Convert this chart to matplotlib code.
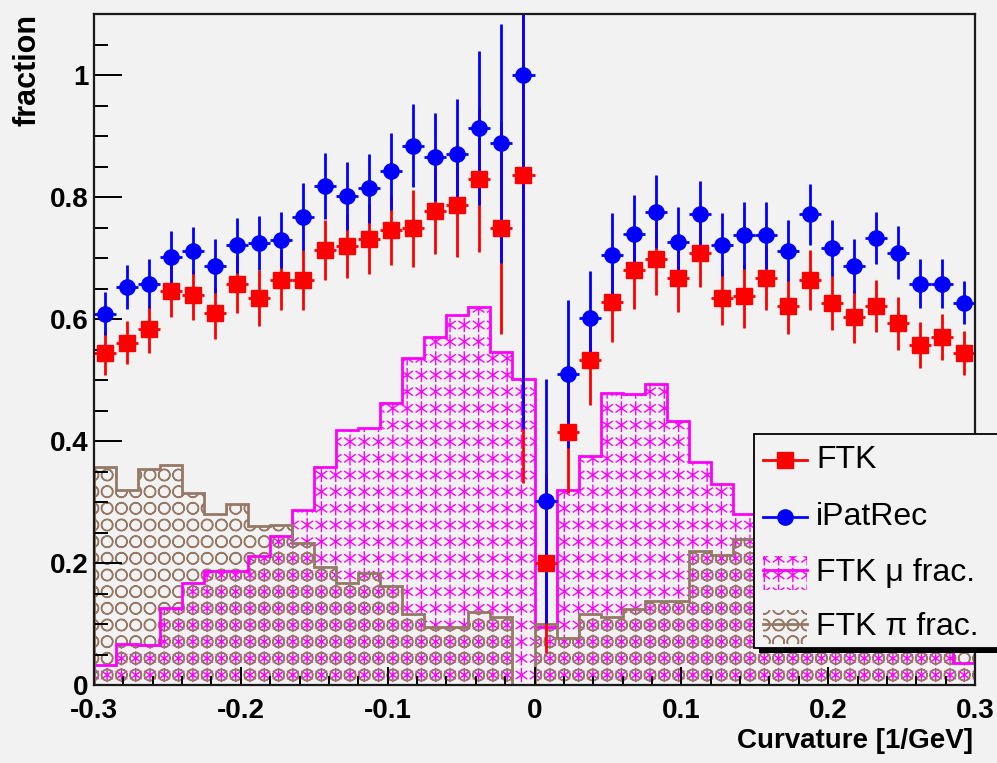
import numpy as np
import matplotlib
matplotlib.use("Agg")
import matplotlib.pyplot as plt
import matplotlib.hatch as mhatch
from matplotlib.path import Path
from matplotlib.patches import Rectangle
from matplotlib.lines import Line2D
from matplotlib.ticker import MultipleLocator

# ---- binning: 40 bins of curvature between -0.3 and 0.3 1/GeV ----
edges = np.linspace(-0.3, 0.3, 41)
centers = 0.5 * (edges[:-1] + edges[1:])
half_width = 0.5 * (edges[1] - edges[0])

# ---- efficiencies ----
ftk = [0.544, 0.561, 0.583, 0.646, 0.639, 0.610, 0.657, 0.635, 0.664, 0.664,
       0.713, 0.720, 0.731, 0.746, 0.749, 0.777, 0.787, 0.829, 0.750, 0.836,
       0.200, 0.415, 0.532, 0.628, 0.681, 0.699, 0.667, 0.708, 0.635, 0.638,
       0.667, 0.621, 0.664, 0.627, 0.604, 0.621, 0.593, 0.557, 0.571, 0.544]
ftk_err = [0.036, 0.035, 0.039, 0.043, 0.040, 0.042, 0.047, 0.046, 0.049, 0.050,
           0.049, 0.052, 0.057, 0.057, 0.063, 0.070, 0.085, 0.119, 0.174, 0.505,
           0.148, 0.100, 0.073, 0.066, 0.064, 0.060, 0.056, 0.055, 0.045, 0.052,
           0.052, 0.045, 0.049, 0.045, 0.043, 0.043, 0.043, 0.038, 0.038, 0.036]

ipatrec = [0.609, 0.652, 0.658, 0.701, 0.712, 0.687, 0.721, 0.725, 0.730, 0.768,
           0.818, 0.802, 0.814, 0.842, 0.884, 0.866, 0.870, 0.913, 0.888, 1.000,
           0.301, 0.510, 0.601, 0.705, 0.740, 0.776, 0.726, 0.772, 0.722, 0.737,
           0.737, 0.712, 0.772, 0.716, 0.687, 0.733, 0.709, 0.658, 0.658, 0.627]
ipatrec_err = [0.036, 0.036, 0.040, 0.044, 0.039, 0.044, 0.045, 0.044, 0.046, 0.055,
               0.054, 0.056, 0.057, 0.063, 0.068, 0.072, 0.090, 0.126, 0.196, 0.580,
               0.200, 0.121, 0.077, 0.068, 0.064, 0.060, 0.058, 0.055, 0.051, 0.055,
               0.055, 0.050, 0.050, 0.046, 0.044, 0.043, 0.043, 0.040, 0.040, 0.036]

# ---- particle composition of FTK tracks ----
mu_frac = [0.033, 0.068, 0.066, 0.127, 0.167, 0.187, 0.187, 0.212, 0.244, 0.287,
           0.357, 0.418, 0.422, 0.463, 0.536, 0.570, 0.607, 0.620, 0.546, 0.501,
           0.095, 0.320, 0.375, 0.479, 0.477, 0.493, 0.432, 0.366, 0.330, 0.281,
           0.250, 0.220, 0.190, 0.160, 0.130, 0.110, 0.090, 0.070, 0.055, 0.036]
pi_frac = [0.357, 0.320, 0.354, 0.361, 0.315, 0.280, 0.297, 0.260, 0.262, 0.233,
           0.194, 0.167, 0.184, 0.162, 0.117, 0.095, 0.095, 0.120, 0.112, 0.000,
           0.100, 0.077, 0.117, 0.111, 0.124, 0.138, 0.138, 0.220, 0.213, 0.239,
           0.260, 0.250, 0.230, 0.210, 0.190, 0.170, 0.150, 0.120, 0.090, 0.070]

ytick_vals = [0, 0.2, 0.4, 0.6, 0.8, 1]
ytick_labels = ["0", "0.2", "0.4", "0.6", "0.8", "1"]
xtick_vals = [-0.3, -0.2, -0.1, 0, 0.1, 0.2, 0.3]
xtick_labels = ["-0.3", "-0.2", "-0.1", "0", "0.1", "0.2", "0.3"]


# ---- ROOT-like fill patterns: shapes on a plain rectangular grid ----
class GridHatch(mhatch.HatchPatternBase):
    """Draws one small shape per cell of an nx-by-ny grid in the hatch tile."""
    nx, ny = 7, 6
    char = None
    radius = 0.05

    def __init__(self, hatch, density):
        self.active = hatch.count(self.char) > 0
        verts, codes = self.shape()
        self.one_v, self.one_c = np.asarray(verts, float), np.asarray(codes)
        self.num_vertices = (self.nx * self.ny * len(self.one_v)) if self.active else 0

    def set_vertices_and_codes(self, vertices, codes):
        n = len(self.one_v)
        cur = 0
        for i in range(self.nx):
            for j in range(self.ny):
                c = ((i + 0.5) / self.nx, (j + 0.5) / self.ny)
                vertices[cur:cur + n] = self.one_v * self.radius + c
                codes[cur:cur + n] = self.one_c
                cur += n


class AsteriskGrid(GridHatch):
    char = "*"
    radius = 0.064

    def shape(self):
        verts, codes = [], []
        for a in np.deg2rad([90, 35, -35]):
            verts += [(np.cos(a), np.sin(a)), (-np.cos(a), -np.sin(a))]
            codes += [Path.MOVETO, Path.LINETO]
        return verts, codes


class CircleGrid(GridHatch):
    char = "O"
    radius = 0.058

    def shape(self):
        circ = Path.unit_circle()
        v = np.concatenate([circ.vertices, circ.vertices[::-1] * 0.92])
        c = np.concatenate([circ.codes, circ.codes])
        return v, c


mhatch._hatch_types = [t for t in mhatch._hatch_types
                       if t not in (mhatch.Stars, mhatch.LargeCircles)]
mhatch._hatch_types += [AsteriskGrid, CircleGrid]

# ---- style ----
BG = "#f2f2f2"
MAGENTA = "#ff00ff"
BROWN = "#957865"
RED = "#ff0000"
BLUE = "#0000ff"
FONT = "Liberation Sans"
plt.rcParams["hatch.linewidth"] = 1.0

W, H = 997, 763
fig = plt.figure(figsize=(W / 100, H / 100), dpi=100, facecolor=BG)


def fpx(x, y):
    """pixel position (from top-left) -> figure fraction"""
    return x / W, 1 - y / H


ax_l, ax_r, ax_t, ax_b = 94, 975, 14, 685
ax = fig.add_axes([ax_l / W, 1 - ax_b / H, (ax_r - ax_l) / W, (ax_b - ax_t) / H])
ax.set_facecolor(BG)

# composition histograms (hatched, transparent)
ax.stairs(mu_frac, edges, fill=True, facecolor="none", edgecolor=MAGENTA,
          hatch="*", linewidth=0, zorder=1)
ax.stairs(pi_frac, edges, fill=True, facecolor="none", edgecolor=BROWN,
          hatch="O", linewidth=0, zorder=1.1)
ax.stairs(mu_frac, edges, baseline=0, color=MAGENTA, linewidth=2, zorder=1.2)
ax.stairs(pi_frac, edges, baseline=0, color=BROWN, linewidth=2, zorder=1.3)

# efficiency points: FTK error bars underneath, iPatRec, then FTK markers on top
ax.errorbar(centers, ftk, yerr=ftk_err, xerr=half_width, fmt="none",
            ecolor=RED, elinewidth=2, capsize=0, zorder=3)
ax.errorbar(centers, ipatrec, yerr=ipatrec_err, xerr=half_width, fmt="o",
            color=BLUE, ms=11, elinewidth=2, capsize=0, zorder=4)
ax.plot(centers, ftk, "s", color=RED, ms=11.5, zorder=5)

ax.set_xlim(-0.3, 0.3)
ax.set_ylim(0, 1.1)

ax.set_yticks(ytick_vals)
ax.set_yticklabels(ytick_labels)
ax.set_xticks(xtick_vals)
ax.set_xticklabels(xtick_labels)
ax.yaxis.set_minor_locator(MultipleLocator(0.05))
ax.xaxis.set_minor_locator(MultipleLocator(0.02))
ax.tick_params(axis="y", which="major", direction="in", length=20, width=1.4, pad=4)
ax.tick_params(axis="y", which="minor", direction="in", length=10, width=1.4)
ax.tick_params(axis="x", which="major", direction="in", length=13, width=1.4, pad=9)
ax.tick_params(axis="x", which="minor", direction="in", length=6.5, width=1.4)
ax.set_axisbelow(False)
for lab in ax.get_xticklabels() + ax.get_yticklabels():
    lab.set_fontfamily(FONT)
    lab.set_fontweight("bold")
    lab.set_fontsize(20)
for sp in ax.spines.values():
    sp.set_linewidth(1.6)
    sp.set_color("#1a1a1a")
    sp.set_zorder(6)

# axis titles
fig.text(*fpx(28, 14), "fraction", rotation=90, ha="center", va="top",
         fontfamily=FONT, fontweight="bold", fontsize=22)
fig.text(*fpx(973, 748), "Curvature [1/GeV]", ha="right", va="baseline",
         fontfamily=FONT, fontweight="bold", fontsize=20)

# ---- legend box with drop shadow ----
lx0, ly0, lx1, ly1 = 754, 434, 1010, 648
sh = 5
x0, y0 = fpx(lx0 + sh, ly1 + sh)
fig.patches.append(Rectangle((x0, y0), (lx1 - lx0) / W, (ly1 - ly0) / H,
                             transform=fig.transFigure, facecolor="black",
                             edgecolor="none", zorder=10))
x0, y0 = fpx(lx0, ly1)
fig.patches.append(Rectangle((x0, y0), (lx1 - lx0) / W, (ly1 - ly0) / H,
                             transform=fig.transFigure, facecolor=BG,
                             edgecolor="black", linewidth=1.3, zorder=11))

sym_x0, sym_x1, txt_x = 763, 807, 816
rows = [460, 517, 573, 627]
labels = ["FTK", "iPatRec", "FTK \u03bc frac.", "FTK \u03c0 frac."]

# point-type entries
for yrow, col, mk, ms in [(rows[0], RED, "s", 11.5), (rows[1], BLUE, "o", 11)]:
    a, yy = fpx(sym_x0, yrow)
    b, _ = fpx(sym_x1, yrow)
    fig.add_artist(Line2D([a, b], [yy, yy], transform=fig.transFigure,
                          color=col, lw=2, zorder=12))
    fig.add_artist(Line2D([(a + b) / 2], [yy], transform=fig.transFigure,
                          color=col, marker=mk, ms=ms, lw=0, zorder=13))

# histogram-type entries
for yrow, col, hatch in [(rows[2], MAGENTA, "*"), (rows[3], BROWN, "O")]:
    a, yb = fpx(sym_x0, yrow + 17)
    b, yt = fpx(sym_x1, yrow - 17)
    fig.patches.append(Rectangle((a, yb), b - a, yt - yb, transform=fig.transFigure,
                                 facecolor="none", edgecolor=col, hatch=hatch,
                                 linewidth=0, zorder=12))
    _, yy = fpx(0, yrow - 3)
    fig.add_artist(Line2D([a, b], [yy, yy], transform=fig.transFigure,
                          color=col, lw=2, zorder=13))

for yrow, lab in zip(rows, labels):
    fig.text(*fpx(txt_x, yrow), lab, ha="left", va="center", fontfamily=FONT,
             fontsize=23, zorder=14)

fig.savefig("out.png", dpi=100, facecolor=BG)
